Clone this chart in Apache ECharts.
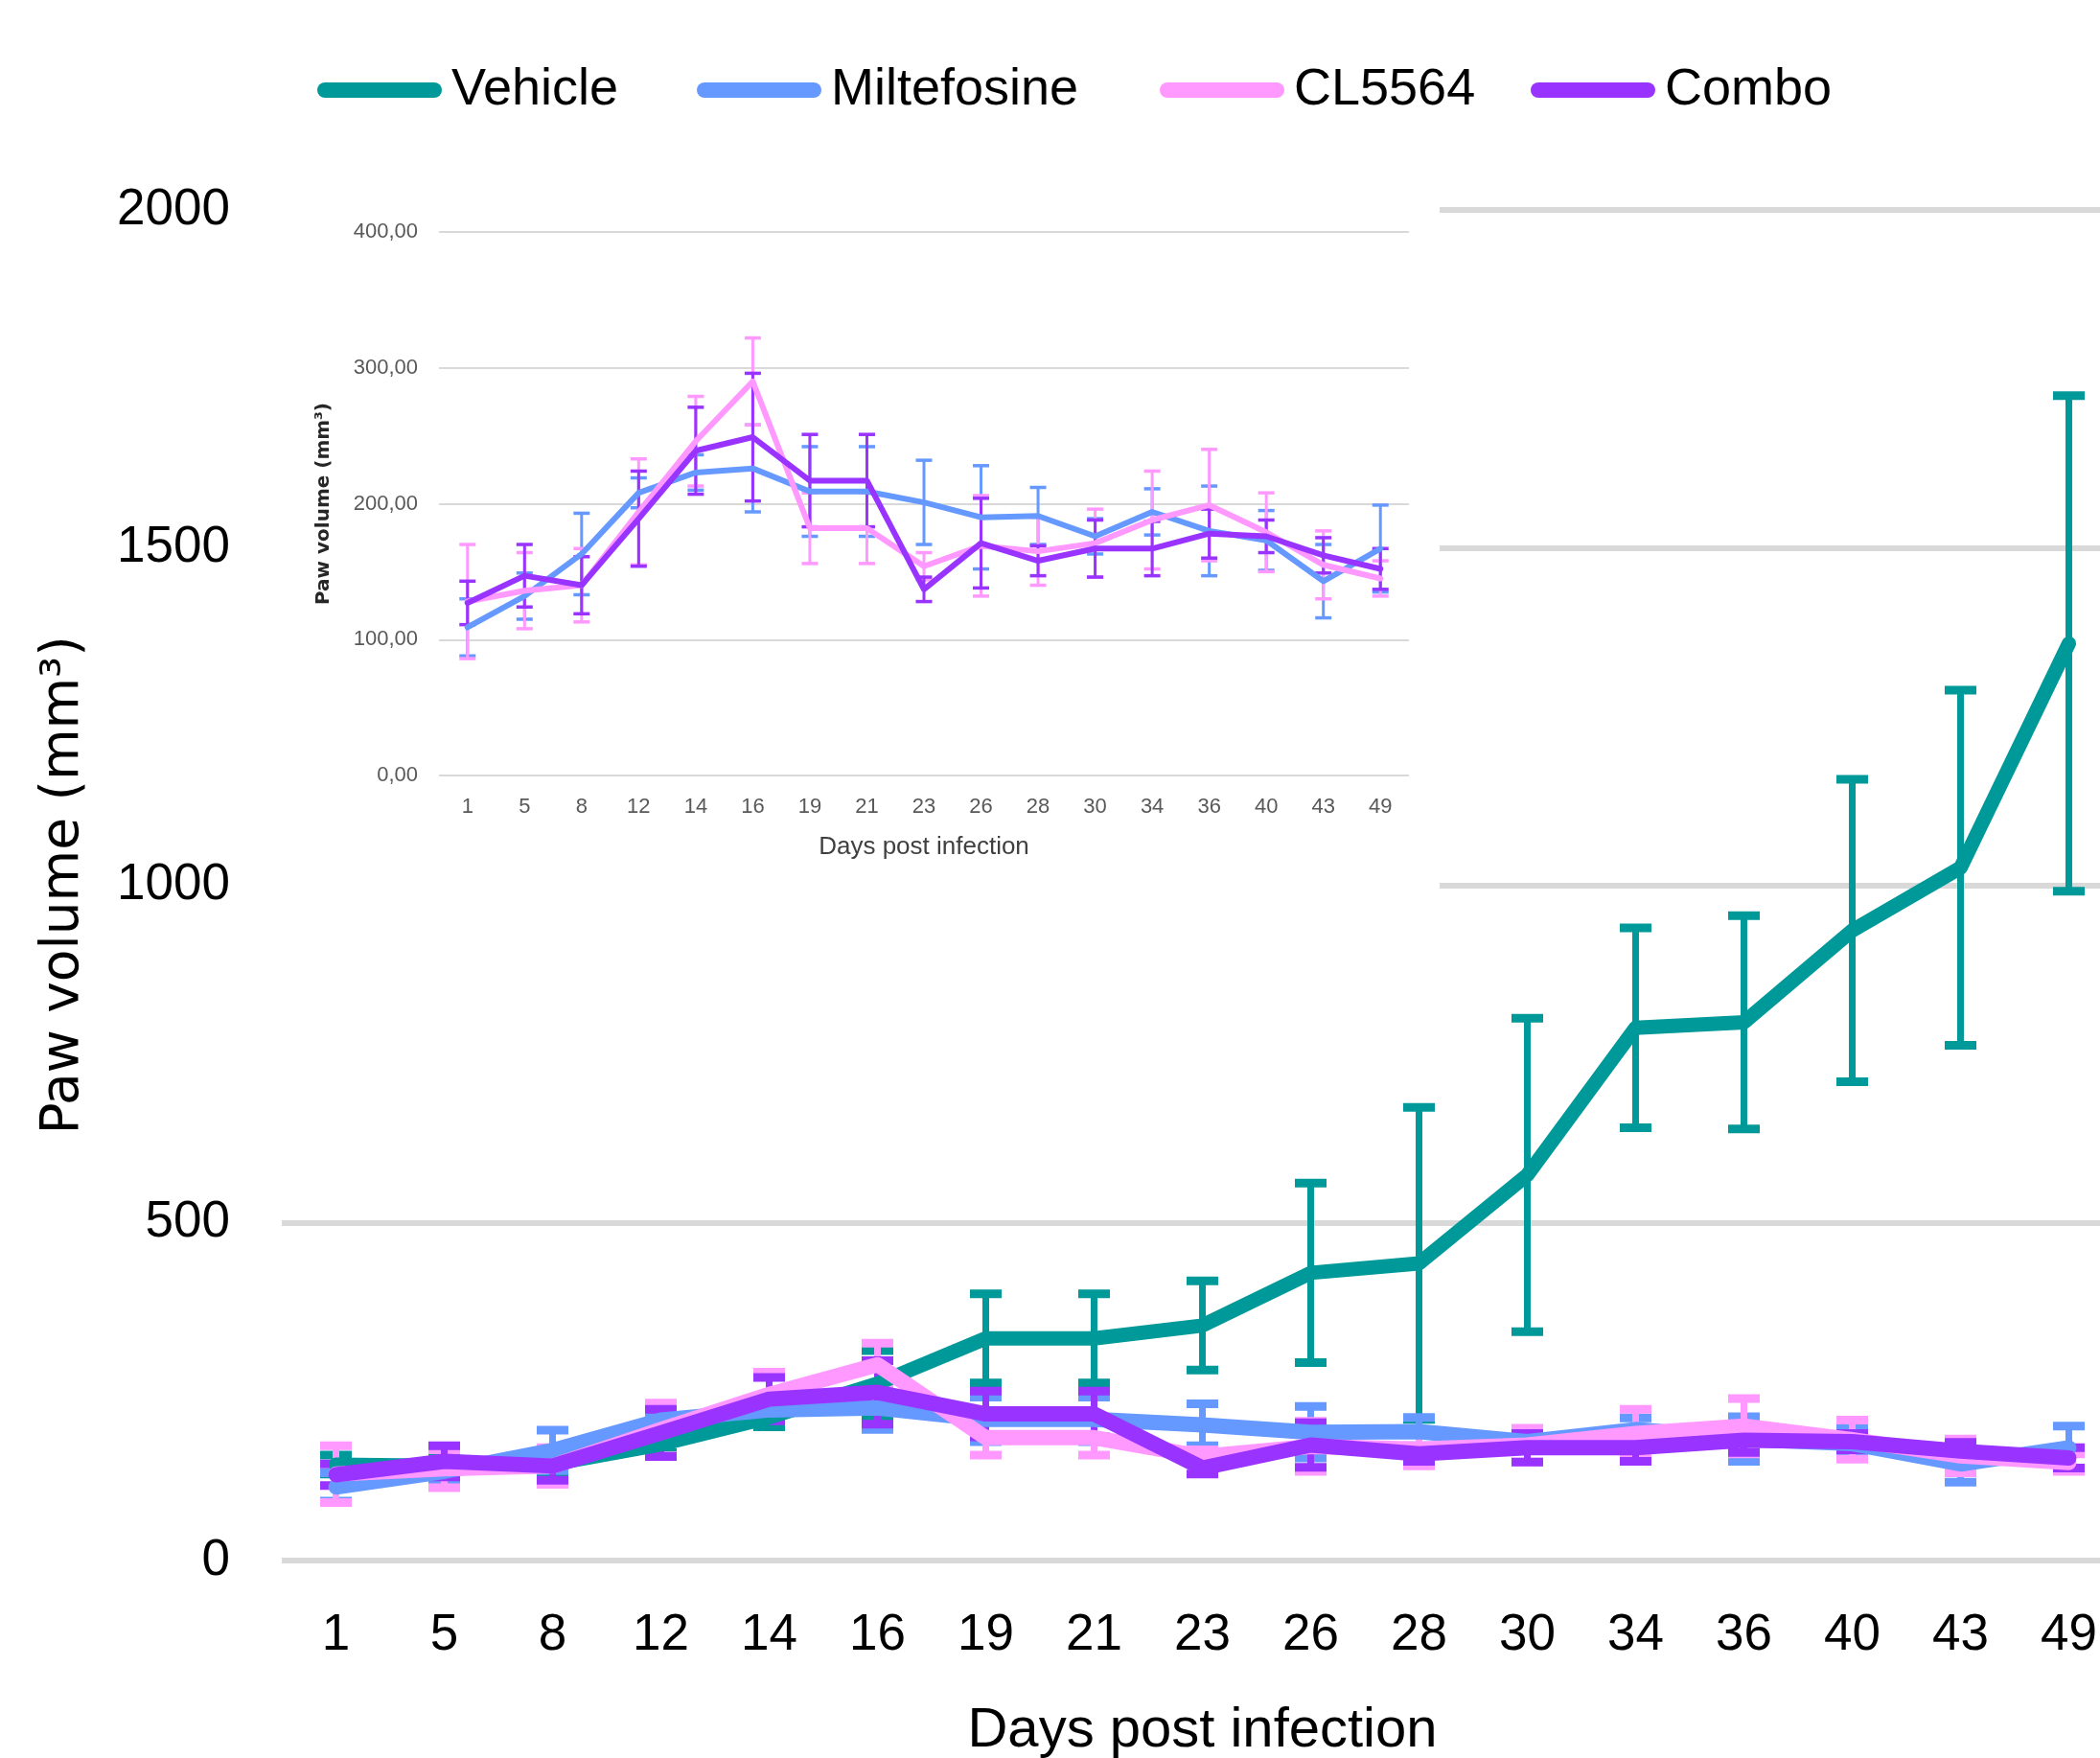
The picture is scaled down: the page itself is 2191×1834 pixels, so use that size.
<!DOCTYPE html>
<html>
<head>
<meta charset="utf-8">
<title>Paw volume</title>
<script src="https://cdn.jsdelivr.net/npm/echarts@6/dist/echarts.min.js"></script>
<style>
    html, body { margin: 0; padding: 0; background: #fff; }
    #main { width: 2191px; height: 1834px; }
</style>
</head>
<body>
<div id="main"></div>
<script>
// ---------------- data ----------------
var days = ['1', '5', '8', '12', '14', '16', '19', '21', '23', '26', '28', '30', '34', '36', '40', '43', '49'];

var vehicle      = [142, 140, 143, 172, 212, 262, 329, 329, 348, 426, 440, 571, 789, 797, 933, 1026, 1358];
var vehicleErr   = [14, 12, 12, 12, 14, 49, 66, 66, 66, 133, 231, 232, 148, 158, 224, 263, 367];

var miltefosine    = [109, 132, 163, 208, 223, 226, 209, 209, 201, 190, 191, 176, 194, 180, 173, 143, 167];
var miltefosineErr = [21, 17, 30, 11, 13, 32, 33, 33, 31, 38, 21, 13, 17, 33, 22, 27, 32];

var cl5564    = [128, 136, 140, 194, 246, 290, 182, 182, 154, 169, 165, 171, 188, 199, 179, 155, 145];
var cl5564Err = [42, 28, 27, 39, 33, 32, 26, 26, 10, 37, 25, 25, 36, 41, 29, 25, 13];

var combo    = [127, 147, 140, 189, 239, 249, 217, 217, 137, 171, 158, 167, 167, 178, 176, 162, 152];
var comboErr = [16, 23, 21, 35, 32, 47, 34, 34, 9, 33, 11, 21, 20, 18, 12, 13, 15];

var mainTicks  = [0, 500, 1000, 1500, 2000];
var insetTicks = [0, 100, 200, 300, 400];

var colors = {
    Vehicle: '#009999',
    Miltefosine: '#6699FF',
    CL5564: '#FF99FF',
    Combo: '#9933FF'
};

var FONT = '"Liberation Sans", Arial, sans-serif';

// ------------------------------ helpers -----------------------------------------
function errData(mean, err) {
    return mean.map(function (m, i) { return [i, m - err[i], m + err[i]]; });
}

// draws one vertical error bar with flat caps
function errorBar(capW, capH, stemW, color) {
    return function (params, api) {
        var x = api.value(0);
        var lo = api.coord([x, api.value(1)]);
        var hi = api.coord([x, api.value(2)]);
        var half = capW / 2;
        return {
            type: 'group',
            children: [
                {type: 'line', shape: {x1: lo[0], y1: lo[1], x2: hi[0], y2: hi[1]}, style: {stroke: color, lineWidth: stemW}},
                {type: 'line', shape: {x1: lo[0] - half, y1: lo[1], x2: lo[0] + half, y2: lo[1]}, style: {stroke: color, lineWidth: capH}},
                {type: 'line', shape: {x1: hi[0] - half, y1: hi[1], x2: hi[0] + half, y2: hi[1]}, style: {stroke: color, lineWidth: capH}}
            ]
        };
    };
}

function lineSeries(name, data, axis, width, z) {
    return {
        name: name,
        type: 'line',
        xAxisIndex: axis,
        yAxisIndex: axis,
        data: data,
        symbol: 'none',
        z: z,
        lineStyle: {color: colors[name], width: width, join: 'round', cap: 'round'},
        itemStyle: {color: colors[name]},
        emphasis: {disabled: true}
    };
}

function errSeries(name, mean, err, axis, capW, capH, stemW, z) {
    return {
        type: 'custom',
        xAxisIndex: axis,
        yAxisIndex: axis,
        data: errData(mean, err),
        encode: {x: 0, y: [1, 2]},
        renderItem: errorBar(capW, capH, stemW, colors[name]),
        z: z,
        silent: true
    };
}

function legendItem(name, left) {
    return {
        data: [name],
        left: left,
        top: 67,
        padding: 0,
        itemWidth: 130,
        itemHeight: 16,
        icon: 'path://M8,0H122A8,8,0,0,1,122,16H8A8,8,0,0,1,8,0Z',
        textStyle: {fontFamily: FONT, fontSize: 54, color: '#000', padding: [0, 0, 0, 5]},
        selectedMode: false
    };
}

// ------------------------------ chart -----------------------------------------
var chartDom = document.getElementById('main');
var myChart = echarts.init(chartDom);
var option;

option = {
    backgroundColor: '#fff',
    animation: false,
    legend: [
        legendItem('Vehicle', 331),
        legendItem('Miltefosine', 727),
        legendItem('CL5564', 1210),
        legendItem('Combo', 1597)
    ],
    // white box the inset sits on
    graphic: [{
        type: 'rect',
        shape: {x: 285, y: 190, width: 1217, height: 770},
        style: {fill: '#fff'},
        z: 10
    }],
    grid: [
        // the main plot runs past the right edge of the picture
        {left: 294, width: 1921, top: 219, height: 1409, outerBoundsMode: 'none', containLabel: false},
        {left: 458, width: 1012, top: 242, height: 567, outerBoundsMode: 'none', containLabel: false}
    ],
    xAxis: [
        {
            type: 'category',
            gridIndex: 0,
            data: days,
            boundaryGap: true,
            axisLine: {show: false},
            axisTick: {show: false},
            axisLabel: {fontFamily: FONT, fontSize: 53, color: '#000', margin: 52},
            name: 'Days post infection',
            nameLocation: 'middle',
            nameGap: 149,
            nameTextStyle: {fontFamily: FONT, fontSize: 58, color: '#000'}
        },
        {
            type: 'category',
            gridIndex: 1,
            data: days,
            boundaryGap: true,
            z: 11,
            axisLine: {show: false},
            axisTick: {show: false},
            axisLabel: {fontFamily: FONT, fontSize: 22, color: '#595959', margin: 22},
            name: 'Days post infection',
            nameLocation: 'middle',
            nameGap: 62,
            nameTextStyle: {fontFamily: FONT, fontSize: 26, color: '#404040'}
        }
    ],
    yAxis: [
        {
            type: 'value',
            gridIndex: 0,
            min: mainTicks[0],
            max: mainTicks[mainTicks.length - 1],
            interval: 500,
            axisLine: {show: false},
            axisTick: {show: false},
            axisLabel: {
                fontFamily: FONT, fontSize: 53, color: '#000', margin: 54,
                formatter: function (v) { return String(v); }
            },
            splitLine: {lineStyle: {color: '#d9d9d9', width: 6}},
            name: 'Paw volume (mm³)',
            nameLocation: 'middle',
            nameGap: 200,
            nameTextStyle: {fontFamily: '"DejaVu Sans", sans-serif', fontSize: 55, color: '#000'}
        },
        {
            type: 'value',
            gridIndex: 1,
            min: insetTicks[0],
            max: insetTicks[insetTicks.length - 1],
            interval: 100,
            z: 11,
            axisLine: {show: false},
            axisTick: {show: false},
            axisLabel: {
                fontFamily: FONT, fontSize: 22, color: '#595959', margin: 22,
                formatter: function (v) { return v.toFixed(2).replace('.', ','); }
            },
            splitLine: {lineStyle: {color: '#d9d9d9', width: 2}},
            name: 'Paw volume (mm³)',
            nameLocation: 'middle',
            nameGap: 110,
            nameTextStyle: {fontFamily: '"DejaVu Sans", sans-serif', fontSize: 20, fontWeight: 'bold', color: '#262626'}
        }
    ],
    series: [
        // main chart
        errSeries('Vehicle', vehicle, vehicleErr, 0, 33, 9, 7, 2),
        lineSeries('Vehicle', vehicle, 0, 15, 2),
        errSeries('Miltefosine', miltefosine, miltefosineErr, 0, 33, 9, 7, 2),
        lineSeries('Miltefosine', miltefosine, 0, 16, 2),
        errSeries('CL5564', cl5564, cl5564Err, 0, 33, 9, 7, 2),
        lineSeries('CL5564', cl5564, 0, 16, 2),
        errSeries('Combo', combo, comboErr, 0, 33, 9, 7, 2),
        lineSeries('Combo', combo, 0, 16, 2),
        // inset
        errSeries('Miltefosine', miltefosine, miltefosineErr, 1, 17, 3.5, 3, 12),
        lineSeries('Miltefosine', miltefosine, 1, 6, 12),
        errSeries('CL5564', cl5564, cl5564Err, 1, 17, 3.5, 3, 12),
        lineSeries('CL5564', cl5564, 1, 6, 12),
        errSeries('Combo', combo, comboErr, 1, 17, 3.5, 3, 12),
        lineSeries('Combo', combo, 1, 6, 12)
    ]
};

option && myChart.setOption(option);
</script>
</body>
</html>
